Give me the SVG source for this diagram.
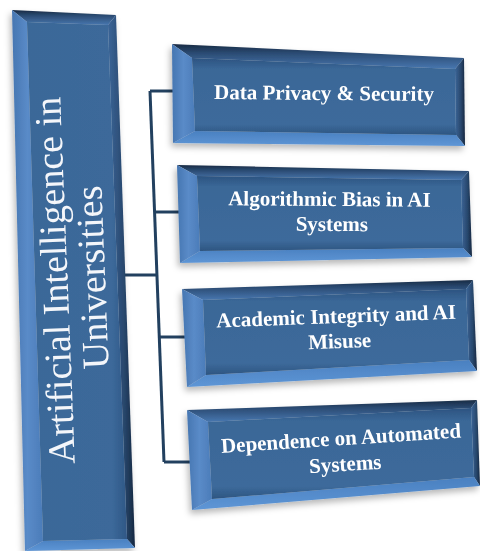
<svg xmlns="http://www.w3.org/2000/svg" width="480" height="551" viewBox="0 0 480 551">
  <defs>
    <linearGradient id="gTop" x1="0" y1="0" x2="0" y2="1">
      <stop offset="0" stop-color="#172a43"/>
      <stop offset="0.35" stop-color="#2a4a71"/>
      <stop offset="1" stop-color="#4877b0"/>
    </linearGradient>
    <linearGradient id="gRight" x1="1" y1="0" x2="0" y2="0">
      <stop offset="0" stop-color="#152740"/>
      <stop offset="0.4" stop-color="#28476c"/>
      <stop offset="1" stop-color="#3b6598"/>
    </linearGradient>
    <linearGradient id="gLeft" x1="0" y1="0" x2="1" y2="0">
      <stop offset="0" stop-color="#4676b1"/>
      <stop offset="0.5" stop-color="#5a8bc8"/>
      <stop offset="1" stop-color="#4b7cb9"/>
    </linearGradient>
    <linearGradient id="gBot" x1="0" y1="0" x2="0" y2="1">
      <stop offset="0" stop-color="#4a80c0"/>
      <stop offset="1" stop-color="#5e96d6"/>
    </linearGradient>
    <linearGradient id="gFace" x1="0" y1="0" x2="0" y2="1">
      <stop offset="0" stop-color="#2c5380"/>
      <stop offset="0.14" stop-color="#3a6797"/>
      <stop offset="0.86" stop-color="#3d6a9b"/>
      <stop offset="1" stop-color="#2d5581"/>
    </linearGradient>
    <linearGradient id="gFaceTall" x1="0" y1="0" x2="1" y2="0">
      <stop offset="0" stop-color="#3a6898"/>
      <stop offset="0.85" stop-color="#3c699a"/>
      <stop offset="1" stop-color="#2f5785"/>
    </linearGradient>
    <filter id="shadow" x="-10%" y="-10%" width="120%" height="130%">
      <feDropShadow dx="-2" dy="4" stdDeviation="3" flood-color="#000" flood-opacity="0.28"/>
    </filter>
  </defs>
  <style>
    .top{fill:url(#gTop)}
    .right{fill:url(#gRight)}
    .left{fill:url(#gLeft)}
    .bot{fill:url(#gBot)}
    .face{fill:url(#gFace)}
    .faceTall{fill:url(#gFaceTall)}
    .box{filter:url(#shadow)}
    .link{fill:none;stroke:#22405f;stroke-width:3;stroke-linejoin:miter}
    .lbl{font-family:"Liberation Serif","Times New Roman",serif;font-weight:bold;font-size:21px;fill:#ffffff;text-anchor:middle}
    .title{font-family:"Liberation Serif","Times New Roman",serif;font-size:38px;fill:#f4f6fa;text-anchor:middle}
  </style>

  <!-- tree connectors -->
  <g id="connectors">
    <path class="link" d="M150,91 L164,462"/>
    <path class="link" d="M150,91 H173"/>
    <path class="link" d="M154.6,212 H179"/>
    <path class="link" d="M159.3,337 H185"/>
    <path class="link" d="M164,462 H190"/>
    <path class="link" d="M124,275 H157"/>
  </g>

  <!-- root: tall bevelled panel -->
  <g id="root" class="box">
    <polygon class="top" points="12,10 116,15 108,25 27,22"/>
    <polygon class="right" points="116,15 135,548 127,539 108,25"/>
    <polygon class="bot" points="135,548 25,551 43,541 127,539"/>
    <polygon class="left" points="25,551 12,10 27,22 43,541"/>
    <polygon class="faceTall" points="27,22 108,25 127,539 43,541"/>
    <text class="title" transform="translate(67.5,280) rotate(-92.3)">Artificial Intelligence in</text>
    <text class="title" transform="translate(105,277) rotate(-92.3)">Universities</text>
  </g>

  <g id="data-privacy" class="box">
    <polygon class="top" points="172,44 464,58 455,69 192,58"/>
    <polygon class="right" points="464,58 465,146 456,135 455,69"/>
    <polygon class="bot" points="465,146 173,143 195,131 456,135"/>
    <polygon class="left" points="173,143 172,44 192,58 195,131"/>
    <polygon class="face" points="192,58 455,69 456,135 195,131"/>
    <text class="lbl" transform="translate(324,100) rotate(0.5)">Data Privacy &amp; Security</text>
  </g>

  <g id="algorithmic-bias" class="box">
    <polygon class="top" points="177,165 469,171 461,180 197,176"/>
    <polygon class="right" points="469,171 472,257 463,248 461,180"/>
    <polygon class="bot" points="472,257 180,263 200,251 463,248"/>
    <polygon class="left" points="180,263 177,165 197,176 200,251"/>
    <polygon class="face" points="197,176 461,180 463,248 200,251"/>
    <text class="lbl" transform="translate(332,206) rotate(0.4)">
      <tspan x="0" y="0">Algorithmic Bias in AI</tspan>
      <tspan x="0" y="25">Systems</tspan>
    </text>
  </g>

  <g id="academic-integrity" class="box">
    <polygon class="top" points="182,289 473,280 466,289 203,300"/>
    <polygon class="right" points="473,280 477,371 469,360 466,289"/>
    <polygon class="bot" points="477,371 187,387 206,375 469,360"/>
    <polygon class="left" points="187,387 182,289 203,300 206,375"/>
    <polygon class="face" points="203,300 466,289 469,360 206,375"/>
    <text class="lbl" transform="translate(339,323) rotate(-2.1)">
      <tspan x="0" y="0">Academic Integrity and AI</tspan>
      <tspan x="0" y="25">Misuse</tspan>
    </text>
  </g>

  <g id="automation-dependence" class="box">
    <polygon class="top" points="187,410 477,400 471,408 208,422"/>
    <polygon class="right" points="477,400 480,486 474,477 471,408"/>
    <polygon class="bot" points="480,486 192,510 212,499 474,477"/>
    <polygon class="left" points="192,510 187,410 208,422 212,499"/>
    <polygon class="face" points="208,422 471,408 474,477 212,499"/>
    <text class="lbl" transform="translate(344,445) rotate(-3.7)">
      <tspan x="0" y="0">Dependence on Automated</tspan>
      <tspan x="0" y="26">Systems</tspan>
    </text>
  </g>
</svg>
